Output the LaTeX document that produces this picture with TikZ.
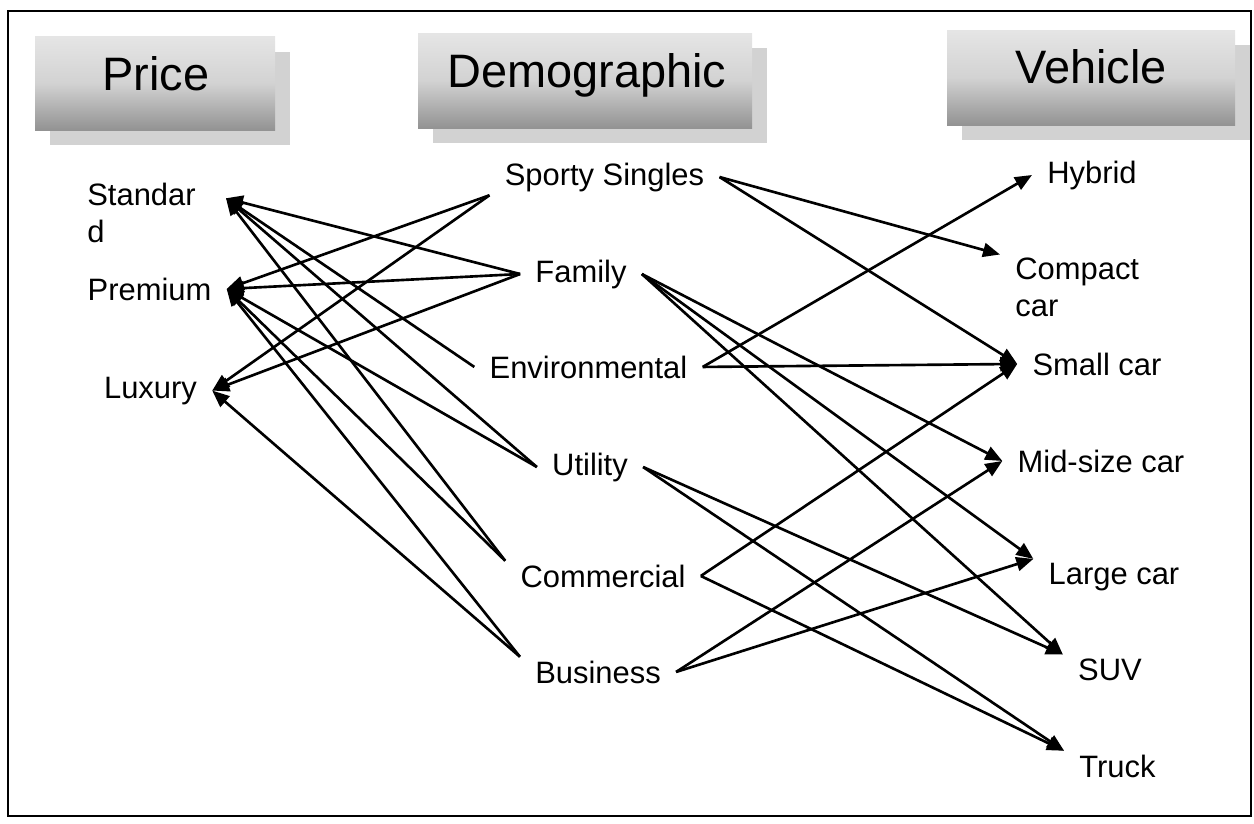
\documentclass[tikz,border=0pt]{standalone}
\usepackage{fontspec}
\setmainfont{Liberation Sans}
\usetikzlibrary{arrows.meta}

\begin{document}
\begin{tikzpicture}[x=0.02cm, y=-0.02cm,
  item/.style={font=\fontsize{17.6pt}{21pt}\selectfont, inner xsep=0.3cm, inner ysep=0.07cm},
  head/.style={font=\fontsize{26.7pt}{32pt}\selectfont, inner sep=0pt},
  banner/.style={top color=gray!20, bottom color=gray!85, middle color=gray!35},
  link/.style={line width=1.5pt, -{Triangle[length=0.34cm, width=0.28cm]}}]
  \useasboundingbox (0,0) rectangle (1254,823);
  % Frame
  \draw[line width=1.2pt] (8,11) rectangle (1251,816);

  % Headers with shadow
  \fill[gray!35] (50,52) rectangle (290,145);
  \shade[banner] (35,36) rectangle (275,130);
  \node[head, anchor=base] (hprice) at (156,90) {Price};

  \fill[gray!35] (433,48) rectangle (767,143);
  \shade[banner] (418,33) rectangle (752,128);
  \node[head, anchor=base] (hdemo) at (587,87) {Demographic};

  \fill[gray!35] (962,45) rectangle (1250,140);
  \shade[banner] (947,30) rectangle (1235,125);
  \node[head, anchor=base] (hveh) at (1091,83) {Vehicle};

  % Price
  \node[item, anchor=north west, align=left, inner xsep=0.6cm] (std) at (57,179.5) {Standar\\d};
  \node[item, anchor=base] (prem) at (149.5,300) {Premium};
  \node[item, anchor=base] (lux) at (150.5,398) {Luxury};

  % Demographic
  \node[item, anchor=base] (sporty) at (604.5,185) {Sporty Singles};
  \node[item, anchor=base] (family) at (581,282) {Family};
  \node[item, anchor=base] (env) at (588.5,378) {Environmental};
  \node[item, anchor=base] (util) at (590,475) {Utility};
  \node[item, anchor=base] (comm) at (603,587) {Commercial};
  \node[item, anchor=base] (bus) at (598,683) {Business};

  % Vehicle
  \node[item, anchor=base] (hybrid) at (1092,183) {Hybrid};
  \node[item, anchor=north west, align=left] (compact) at (1000,254.5) {Compact\\car};
  \node[item, anchor=base] (small) at (1097,375) {Small car};
  \node[item, anchor=base] (mid) at (1101,472) {Mid-size car};
  \node[item, anchor=base] (large) at (1114,584) {Large car};
  \node[item, anchor=base] (suv) at (1110,680) {SUV};
  \node[item, anchor=base] (truck) at (1117.5,777) {Truck};

  % Demographic -> Price
  \draw[link] (family.west) -- (std.10);
  \draw[link] (family.west) -- (prem.east);
  \draw[link] (family.west) -- (lux.east);
  \draw[link] (sporty.south west) -- (prem.east);
  \draw[link] (sporty.south west) -- (lux.east);
  \draw[link] (env.west) -- (std.10);
  \draw[link] (util.west) -- (std.10);
  \draw[link] (util.west) -- (prem.east);
  \draw[link] (comm.north west) -- (std.10);
  \draw[link] (comm.north west) -- (prem.east);
  \draw[link] (bus.north west) -- (prem.east);
  \draw[link] (bus.north west) -- (lux.east);

  % Demographic -> Vehicle
  \draw[link] (sporty.east) -- (compact.north west);
  \draw[link] (sporty.east) -- (small.west);
  \draw[link] (family.east) -- (mid.west);
  \draw[link] (family.east) -- (large.north west);
  \draw[link] (family.east) -- (suv.north west);
  \draw[link] (env.east) -- (hybrid.west);
  \draw[link] (env.east) -- (small.west);
  \draw[link] (util.east) -- (suv.north west);
  \draw[link] (util.east) -- (truck.north west);
  \draw[link] (comm.east) -- (small.west);
  \draw[link] (comm.east) -- (truck.north west);
  \draw[link] (bus.east) -- (mid.west);
  \draw[link] (bus.east) -- (large.north west);
\end{tikzpicture}
\end{document}
